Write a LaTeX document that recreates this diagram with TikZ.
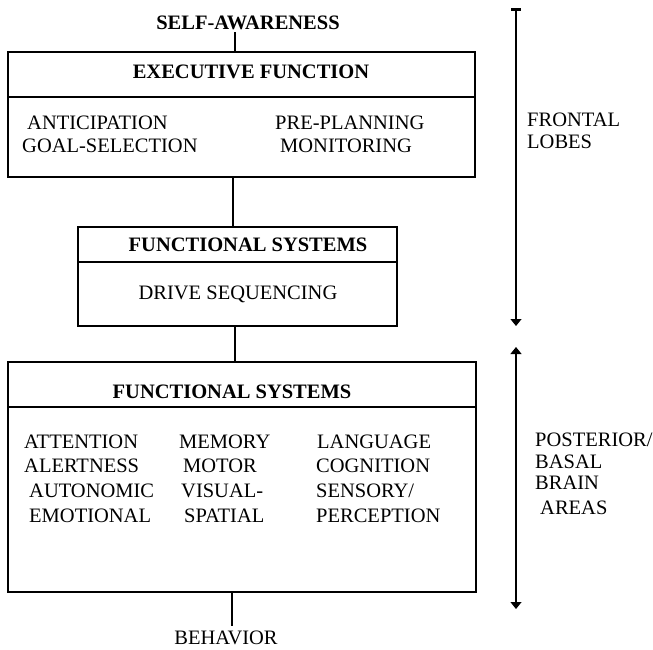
\documentclass[tikz,border=0pt]{standalone}
\usepackage{fontspec}
\setmainfont{Liberation Serif}
\usetikzlibrary{arrows.meta}

\tikzset{
  panel/.style={draw, line width=1.2pt, rectangle, inner sep=0pt, outer sep=0pt},
  divider/.style={line width=1.2pt},
  label/.style={inner sep=2pt, font=\fontsize{20.5}{24}\selectfont},
  title/.style={label, font=\fontsize{20.5}{24}\selectfont\bfseries},
  item/.style={label, anchor=base west},
  thicklink/.style={line width=2.6pt},
  thinlink/.style={line width=1.3pt},
  span/.style={line width=1.2pt},
}

\begin{document}
\begin{tikzpicture}[x=1pt, y=-1pt]
  \useasboundingbox (0,0) rectangle (653,649);

  % --- frontal-lobe panels ---
  \node[panel, minimum width=467pt, minimum height=125pt] (exec) at (241.5,114.5) {};
  \draw[divider] (exec.west |- 0,97) -- (exec.east |- 0,97);
  \node[title, anchor=base] (sa) at (248,29.5) {SELF-AWARENESS};
  \node[title, anchor=base] (ef) at (251,78.5) {EXECUTIVE FUNCTION};
  \node[item] (ant)  at (25,129.5)  {ANTICIPATION};
  \node[item] (goal) at (20,152.5)  {GOAL-SELECTION};
  \node[item] (pre)  at (273,129.5) {PRE-PLANNING};
  \node[item] (mon)  at (278,152.5) {MONITORING};

  \node[panel, minimum width=319pt, minimum height=99pt] (fs1) at (237.5,276.5) {};
  \draw[divider] (fs1.west |- 0,262) -- (fs1.east |- 0,262);
  \node[title, anchor=base] (fs1t) at (248,251.5) {FUNCTIONAL SYSTEMS};
  \node[label, anchor=base] (drive) at (238,299.5) {DRIVE SEQUENCING};

  % --- posterior / basal panel ---
  \node[panel, minimum width=468pt, minimum height=230pt] (fs2) at (242,477) {};
  \draw[divider] (fs2.west |- 0,407) -- (fs2.east |- 0,407);
  \node[title, anchor=base] (fs2t) at (232,398.5) {FUNCTIONAL SYSTEMS};
  \node[item] (att)  at (22,448.5)  {ATTENTION};
  \node[item] (ale)  at (22,472.5)  {ALERTNESS};
  \node[item] (aut)  at (27,497.5)  {AUTONOMIC};
  \node[item] (emo)  at (27,522.5)  {EMOTIONAL};
  \node[item] (mem)  at (177,448.5) {MEMORY};
  \node[item] (mot)  at (181,472.5) {MOTOR};
  \node[item] (vis)  at (179,497.5) {VISUAL-};
  \node[item] (spa)  at (182,522.5) {SPATIAL};
  \node[item] (lan)  at (315,448.5) {LANGUAGE};
  \node[item] (cog)  at (314,472.5) {COGNITION};
  \node[item] (sen)  at (314,497.5) {SENSORY/};
  \node[item] (per)  at (314,522.5) {PERCEPTION};

  \node[label, anchor=base, inner sep=5pt] (beh) at (226,644.5) {BEHAVIOR};

  % --- links between levels ---
  \coordinate (k1) at (235,0);
  \coordinate (k2) at (233,0);
  \coordinate (k3) at (235,0);
  \coordinate (k4) at (232,0);
  \draw[thicklink] (sa.south -| k1) -- (exec.north -| k1);
  \draw[thicklink] (exec.south -| k2) -- (fs1.north -| k2);
  \draw[thinlink] (fs1.south -| k3) -- (fs2.north -| k3);
  \draw[thinlink] (fs2.south -| k4) -- (beh.north -| k4);

  % --- region spans on the right ---
  \coordinate (ftop) at (516,8);
  \coordinate (fbot) at (516,326);
  \coordinate (ptop) at (516,347);
  \coordinate (pbot) at (516,609);
  \draw[span, {Bar[width=10pt,line width=2.5pt]}-{Triangle[width=11pt,length=7pt]}] (ftop) -- (fbot);
  \draw[span, {Triangle[width=11pt,length=7pt]}-{Triangle[width=11pt,length=7pt]}] (ptop) -- (pbot);

  \node[item] (fro) at (525,126.5) {FRONTAL};
  \node[item] (lob) at (525,148.5) {LOBES};
  \node[item] (pos) at (533,446.5) {POSTERIOR/};
  \node[item] (bas) at (533,468.5) {BASAL};
  \node[item] (bra) at (533,489.5) {BRAIN};
  \node[item] (are) at (538,514.5) {AREAS};
\end{tikzpicture}
\end{document}
